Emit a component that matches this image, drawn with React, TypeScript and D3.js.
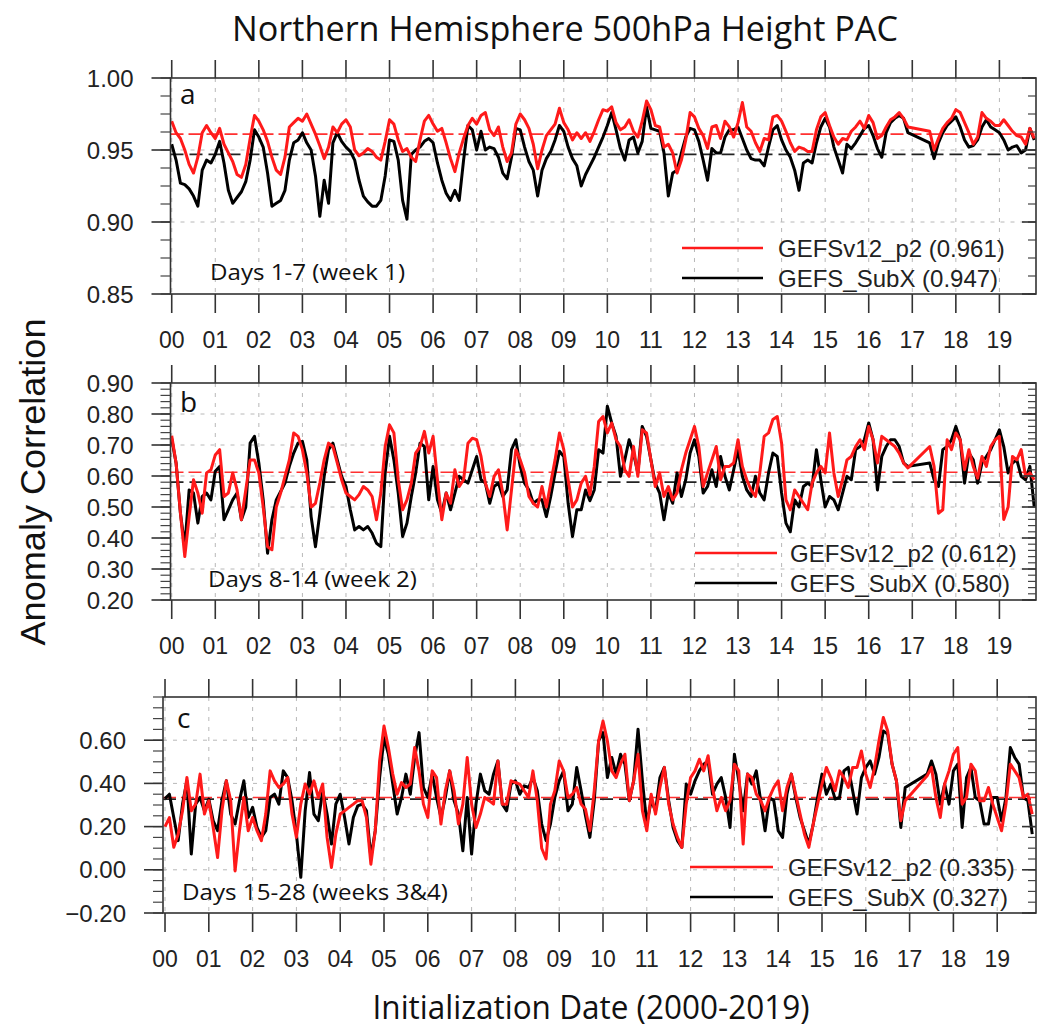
import React from "react";
import * as d3 from "d3";

// ---------------- data ----------------
const YEAR_LABELS = ["00","01","02","03","04","05","06","07","08","09","10","11","12","13","14","15","16","17","18","19"];
const T_STEP = 0.1; // years between samples, first sample at start of 2000

const A_RED = [
  0.970,0.962,0.958,0.950,0.940,0.934,0.945,0.962,0.967,0.962,
  0.958,0.965,0.954,0.948,0.942,0.933,0.931,0.940,0.958,0.974,
  0.970,0.964,0.956,0.945,0.936,0.933,0.945,0.966,0.969,0.972,
  0.970,0.975,0.968,0.961,0.953,0.944,0.952,0.966,0.962,0.968,
  0.971,0.966,0.950,0.946,0.948,0.951,0.949,0.945,0.943,0.956,
  0.971,0.968,0.957,0.949,0.951,0.945,0.942,0.957,0.970,0.974,
  0.968,0.963,0.965,0.955,0.944,0.935,0.948,0.958,0.967,0.972,
  0.968,0.974,0.976,0.964,0.960,0.966,0.952,0.942,0.948,0.968,
  0.975,0.971,0.965,0.954,0.937,0.950,0.960,0.964,0.968,0.979,
  0.969,0.964,0.957,0.962,0.958,0.962,0.956,0.963,0.971,0.978,
  0.977,0.980,0.969,0.964,0.966,0.971,0.963,0.959,0.970,0.984,
  0.978,0.967,0.966,0.952,0.954,0.948,0.934,0.943,0.957,0.976,
  0.973,0.965,0.960,0.951,0.966,0.967,0.958,0.970,0.966,0.959,
  0.969,0.983,0.966,0.963,0.955,0.949,0.958,0.957,0.973,0.974,
  0.970,0.963,0.955,0.949,0.952,0.951,0.949,0.949,0.964,0.973,
  0.976,0.967,0.959,0.954,0.958,0.957,0.963,0.966,0.970,0.965,
  0.974,0.969,0.958,0.960,0.966,0.971,0.973,0.976,0.972,0.966,
  null,null,null,null,0.963,0.950,0.958,0.965,0.969,0.972,
  0.978,0.976,0.969,0.962,0.954,0.959,0.976,0.972,0.970,0.967,
  0.967,0.971,0.967,0.963,0.960,0.959,0.954,0.965,0.958,
];
const A_BLK = [
  0.954,0.943,0.927,0.926,0.923,0.918,0.911,0.936,0.943,0.941,
  0.947,0.956,0.941,0.922,0.913,0.917,0.921,0.928,0.943,0.964,
  0.959,0.952,0.934,0.911,0.913,0.915,0.922,0.943,0.955,0.957,
  0.962,0.955,0.950,0.932,0.904,0.929,0.913,0.955,0.962,0.956,
  0.952,0.949,0.943,0.929,0.918,0.914,0.911,0.911,0.915,0.932,
  0.957,0.956,0.943,0.915,0.902,0.947,0.950,0.952,0.956,0.958,
  0.955,0.941,0.929,0.920,0.915,0.922,0.915,0.943,0.967,0.964,
  0.950,0.963,0.950,0.952,0.951,0.945,0.934,0.930,0.945,0.965,
  0.964,0.952,0.942,0.936,0.918,0.936,0.944,0.949,0.957,0.967,
  0.963,0.952,0.944,0.939,0.925,0.933,0.939,0.945,0.952,0.959,
  0.967,0.976,0.964,0.951,0.943,0.957,0.959,0.948,0.956,0.980,
  0.965,0.964,0.963,0.948,0.918,0.934,0.936,0.948,0.959,0.965,
  0.964,0.956,0.943,0.929,0.951,0.948,0.948,0.959,0.964,0.964,
  0.966,0.958,0.950,0.944,0.943,0.943,0.939,0.952,0.964,0.967,
  0.957,0.950,0.945,0.936,0.922,0.941,0.943,0.941,0.955,0.966,
  0.972,0.966,0.952,0.943,0.934,0.954,0.951,0.955,0.960,0.965,
  0.967,0.960,0.951,0.945,0.962,0.969,0.972,0.974,0.972,0.962,
  null,null,null,null,0.955,0.944,0.955,0.962,0.967,0.970,
  0.973,0.966,0.957,0.952,0.953,0.957,0.966,0.971,0.966,0.964,
  0.962,0.957,0.950,0.952,0.953,0.948,0.950,0.965,0.957,
];
const B_RED = [
  0.730,0.642,0.480,0.340,0.469,0.588,0.545,0.480,0.610,0.620,
  0.668,0.685,0.534,0.545,0.610,0.555,0.459,0.555,0.652,0.652,
  0.610,0.500,0.372,0.362,0.500,0.545,0.599,0.652,0.739,0.728,
  0.685,0.610,0.500,0.512,0.577,0.652,0.706,0.695,0.642,0.588,
  0.545,0.534,0.523,0.540,0.566,0.555,0.534,0.459,0.545,0.695,
  0.765,0.739,0.588,0.491,0.523,0.577,0.674,0.695,0.744,0.674,
  0.728,0.588,0.459,0.545,0.512,0.620,0.566,0.588,0.706,0.722,
  0.717,0.663,0.577,0.534,0.599,0.620,0.545,0.426,0.555,0.685,
  0.652,0.610,0.534,0.512,0.500,0.566,0.500,0.577,0.652,0.739,
  0.685,0.588,0.500,0.523,0.577,0.599,0.540,0.631,0.776,0.792,
  0.739,0.771,0.717,0.695,0.620,0.599,0.695,0.599,0.749,0.739,
  0.652,0.566,0.610,0.534,0.566,0.523,0.545,0.620,0.674,0.717,
  0.760,0.695,0.566,0.610,0.652,0.695,0.588,0.631,0.631,0.642,
  0.717,0.631,0.588,0.555,0.534,0.610,0.728,0.739,0.782,0.792,
  0.706,0.523,0.491,0.555,0.534,0.512,0.491,0.577,0.610,0.631,
  0.610,0.739,0.610,0.534,0.588,0.652,0.663,0.695,0.717,0.685,
  0.760,0.717,0.642,0.728,0.717,0.706,0.695,0.674,0.642,0.626,
  null,null,null,null,0.695,0.631,0.480,0.491,0.717,0.685,
  0.739,0.717,0.620,0.685,0.631,0.593,0.663,0.631,0.695,0.717,
  0.728,0.460,0.500,0.663,0.652,0.685,0.599,0.610,0.588,
];
const B_BLK = [
  0.720,0.642,0.480,0.372,0.555,0.545,0.448,0.534,0.545,0.523,
  0.615,0.631,0.459,0.491,0.523,0.545,0.459,0.500,0.706,0.728,
  0.642,0.523,0.351,0.459,0.523,0.550,0.577,0.631,0.674,0.706,
  0.712,0.652,0.469,0.372,0.480,0.599,0.685,0.706,0.652,0.599,
  0.566,0.491,0.426,0.437,0.426,0.437,0.416,0.383,0.372,0.610,
  0.728,0.652,0.545,0.405,0.448,0.534,0.610,0.706,0.695,0.523,
  0.631,0.523,0.480,0.545,0.491,0.545,0.599,0.588,0.577,0.620,
  0.663,0.588,0.577,0.512,0.566,0.577,0.534,0.555,0.685,0.717,
  0.631,0.577,0.555,0.512,0.523,0.523,0.469,0.534,0.610,0.680,
  0.663,0.512,0.405,0.491,0.491,0.555,0.520,0.555,0.685,0.674,
  0.825,0.771,0.728,0.599,0.652,0.717,0.674,0.610,0.760,0.728,
  0.652,0.577,0.545,0.459,0.545,0.512,0.610,0.534,0.588,0.674,
  0.717,0.663,0.545,0.566,0.620,0.566,0.663,0.599,0.555,0.620,
  0.685,0.599,0.555,0.534,0.599,0.545,0.523,0.610,0.674,0.663,
  0.545,0.448,0.420,0.523,0.500,0.566,0.577,0.566,0.685,0.588,
  0.500,0.534,0.523,0.491,0.545,0.599,0.588,0.685,0.695,0.717,
  0.771,0.717,0.555,0.663,0.695,0.717,0.717,0.695,0.642,0.631,
  null,null,null,null,0.642,0.588,0.566,0.685,0.695,0.717,
  0.760,0.717,0.577,0.674,0.652,0.577,0.642,0.663,0.685,0.717,
  0.749,0.695,0.610,0.642,0.652,0.599,0.588,0.631,0.500,
];
const C_RED = [
  0.200,0.242,0.104,0.165,0.273,0.427,0.273,0.304,0.443,0.258,
  0.320,0.196,0.057,0.273,0.412,0.320,-0.005,0.181,0.335,0.181,
  0.242,0.181,0.135,0.258,0.458,0.412,0.381,0.397,0.427,0.258,
  0.150,0.304,0.397,0.350,0.412,0.335,0.397,0.150,0.011,0.165,
  0.258,0.273,0.289,0.304,0.320,0.320,0.242,0.026,0.181,0.504,
  0.666,0.566,0.443,0.350,0.404,0.381,0.397,0.566,0.458,0.304,
  0.242,0.458,0.427,0.212,0.366,0.458,0.366,0.212,0.304,0.520,
  0.304,0.196,0.258,0.335,0.320,0.304,0.504,0.304,0.304,0.412,
  0.404,0.397,0.366,0.335,0.458,0.320,0.100,0.050,0.304,0.366,
  0.504,0.458,0.335,0.350,0.381,0.304,0.280,0.181,0.366,0.597,
  0.689,0.597,0.458,0.427,0.489,0.535,0.320,0.412,0.535,0.273,
  0.181,0.350,0.258,0.381,0.474,0.304,0.212,0.150,0.104,0.304,
  0.427,0.458,0.512,0.458,0.528,0.381,0.273,0.335,0.273,0.320,
  0.489,0.458,0.119,0.443,0.427,0.350,0.320,0.273,0.335,0.381,
  0.412,0.273,0.381,0.443,0.350,0.258,0.165,0.104,0.212,0.304,
  0.397,0.474,0.427,0.366,0.458,0.427,0.381,0.474,0.474,0.550,
  0.443,0.381,0.474,0.597,0.705,0.643,0.489,0.412,0.227,0.320,
  null,null,null,null,0.435,0.474,0.335,0.242,0.397,0.458,
  0.535,0.566,0.304,0.335,0.489,0.458,0.320,0.320,0.381,0.304,
  0.242,0.181,0.304,0.489,0.458,0.427,0.335,0.350,0.258,
];
const C_BLK = [
  0.330,0.350,0.242,0.135,0.304,0.412,0.073,0.304,0.335,0.273,
  0.327,0.227,0.181,0.320,0.412,0.258,0.212,0.320,0.412,0.242,
  0.289,0.196,0.150,0.181,0.335,0.350,0.304,0.458,0.427,0.320,
  0.165,-0.035,0.273,0.450,0.258,0.227,0.366,0.258,0.119,0.304,
  0.350,0.242,0.119,0.242,0.296,0.304,0.273,0.057,0.181,0.427,
  0.612,0.535,0.397,0.258,0.335,0.443,0.350,0.520,0.635,0.381,
  0.335,0.443,0.335,0.242,0.335,0.458,0.320,0.258,0.088,0.335,
  0.073,0.304,0.443,0.366,0.350,0.443,0.504,0.304,0.273,0.397,
  0.412,0.350,0.389,0.381,0.427,0.366,0.212,0.135,0.212,0.335,
  0.412,0.458,0.273,0.304,0.474,0.366,0.250,0.150,0.320,0.597,
  0.635,0.427,0.520,0.443,0.535,0.489,0.320,0.412,0.651,0.412,
  0.212,0.320,0.273,0.427,0.474,0.320,0.196,0.135,0.104,0.397,
  0.350,0.412,0.458,0.489,0.504,0.350,0.397,0.427,0.335,0.196,
  0.535,0.412,0.273,0.443,0.397,0.458,0.320,0.181,0.335,0.320,
  0.181,0.150,0.350,0.443,0.335,0.242,0.181,0.119,0.212,0.335,
  0.443,0.350,0.397,0.327,0.335,0.458,0.474,0.366,0.258,0.427,
  0.474,0.504,0.443,0.520,0.643,0.628,0.489,0.412,0.196,0.381,
  null,null,null,null,0.443,0.504,0.443,0.304,0.397,0.304,
  0.458,0.489,0.196,0.427,0.474,0.335,0.320,0.212,0.212,0.335,
  0.335,0.227,0.335,0.566,0.520,0.489,0.335,0.320,0.165,
];

const SERIES_NAMES = ["GEFSv12_p2", "GEFS_SubX"];
const MEANS_A = [0.961, 0.947];
const MEANS_B = [0.612, 0.580];
const MEANS_C = [0.335, 0.327];
const Y_TICKS_A = [0.85, 0.90, 0.95, 1.00];
const Y_TICKS_B = [0.20, 0.30, 0.40, 0.50, 0.60, 0.70, 0.80, 0.90];
const Y_TICKS_C = [-0.20, 0.00, 0.20, 0.40, 0.60];

// ---------------- layout ----------------
const HELV = "'Liberation Sans', Arial, Helvetica, sans-serif";
const HUM = "'Open Sans', 'Noto Sans', sans-serif";
const RED = "#ff1a1a";

const panels = [
  {
    key: "a", letter: "a", caption: "Days 1-7 (week 1)", red: A_RED, blk: A_BLK, means: MEANS_A,
    yTicks: Y_TICKS_A, yDomain: [0.85, 1.0], minorStep: 0.0125,
    xDomain: [-0.028, 19.84], xRange: [170.5, 1036], yRange: [294, 78],
    letterPos: [180, 104], capPos: [210, 280], capW: 195,
    legX: [682, 763], legY: [248, 278], legTx: 778,
  },
  {
    key: "b", letter: "b", caption: "Days 8-14 (week 2)", red: B_RED, blk: B_BLK, means: MEANS_B,
    yTicks: Y_TICKS_B, yDomain: [0.2, 0.9], minorStep: 0.02,
    xDomain: [-0.028, 19.84], xRange: [170.5, 1036], yRange: [600, 383],
    letterPos: [180, 412], capPos: [208, 587], capW: 209,
    legX: [695, 777], legY: [553, 583], legTx: 790,
  },
  {
    key: "c", letter: "c", caption: "Days 15-28 (weeks 3&4)", red: C_RED, blk: C_BLK, means: MEANS_C,
    yTicks: Y_TICKS_C, yDomain: [-0.2, 0.8], minorStep: 0.05,
    xDomain: [-0.046, 19.886], xRange: [163, 1036], yRange: [913, 697],
    letterPos: [177, 728], capPos: [182, 900], capW: 266,
    legX: [690, 773], legY: [867, 897], legTx: 788,
  },
];

function Panel({ p }: { p: any }) {
  const x = d3.scaleLinear().domain(p.xDomain).range(p.xRange);
  const y = d3.scaleLinear().domain(p.yDomain).range(p.yRange);
  const [x0, x1] = p.xRange;
  const [yb, yt] = p.yRange;
  const line = d3.line<[number, number]>().x((d) => x(d[0])).y((d) => y(d[1]));
  const pts = (arr: (number | null)[]) =>
    arr.map((v, i) => [i * T_STEP, v] as [number, number | null]).filter((d) => d[1] != null) as [number, number][];
  const minors = d3.range(p.yDomain[0], p.yDomain[1] + 1e-9, p.minorStep);
  const fmt = d3.format(".2f");
  const yearTicks = YEAR_LABELS.map((_, i) => i);
  const names = SERIES_NAMES;
  return (
    <g>
      {/* grid */}
      {yearTicks.map((t) => (
        <line key={"gx" + t} x1={x(t)} x2={x(t)} y1={yt} y2={yb} stroke="#b8b8b8" strokeWidth={1} strokeDasharray="4 6" />
      ))}
      {p.yTicks.filter((v: number) => y(v) > yt + 1 && y(v) < yb - 1).map((v: number) => (
        <line key={"gy" + v} x1={x0} x2={x1} y1={y(v)} y2={y(v)} stroke="#b8b8b8" strokeWidth={1} strokeDasharray="4 6" />
      ))}
      {/* means */}
      <line x1={x0} x2={x1} y1={y(p.means[1])} y2={y(p.means[1])} stroke="#222" strokeWidth={1.8} strokeDasharray="13 6" />
      <line x1={x0} x2={x1} y1={y(p.means[0])} y2={y(p.means[0])} stroke={RED} strokeWidth={1.6} strokeDasharray="13 5" opacity={0.9} />
      {/* series */}
      <clipPath id={"clip" + p.key}>
        <rect x={x0} y={yt} width={x1 - x0} height={yb - yt} />
      </clipPath>
      <g clipPath={`url(#clip${p.key})`}>
        <path d={line(pts(p.blk)) || ""} fill="none" stroke="#000" strokeWidth={3} strokeLinejoin="round" />
        <path d={line(pts(p.red)) || ""} fill="none" stroke={RED} strokeWidth={3} strokeLinejoin="round" />
      </g>
      {/* frame */}
      <rect x={x0} y={yt} width={x1 - x0} height={yb - yt} fill="none" stroke="#333" strokeWidth={1.6} />
      {/* left ticks */}
      {minors.map((v, i) => (
        <line key={"lm" + i} x1={x0 - 10} x2={x0} y1={y(v)} y2={y(v)} stroke="#444" strokeWidth={1.2} />
      ))}
      {p.yTicks.map((v: number) => (
        <line key={"lM" + v} x1={x0 - 19} x2={x0} y1={y(v)} y2={y(v)} stroke="#333" strokeWidth={1.6} />
      ))}
      {/* right ticks (inward) */}
      {minors.map((v, i) => (
        <line key={"rm" + i} x1={x1 - 8} x2={x1} y1={y(v)} y2={y(v)} stroke="#444" strokeWidth={1.2} />
      ))}
      {p.yTicks.map((v: number) => (
        <line key={"rM" + v} x1={x1 - 14} x2={x1} y1={y(v)} y2={y(v)} stroke="#333" strokeWidth={1.6} />
      ))}
      {/* top & bottom ticks */}
      {yearTicks.map((t) => (
        <g key={"xt" + t}>
          <line x1={x(t)} x2={x(t)} y1={yt - 18} y2={yt} stroke="#333" strokeWidth={1.6} />
          <line x1={x(t)} x2={x(t)} y1={yb} y2={yb + 19} stroke="#333" strokeWidth={1.6} />
          <text x={x(t)} y={yb + 46} textAnchor="middle" dominantBaseline="central" fontFamily={HELV} fontSize={23} fill="#222">
            {YEAR_LABELS[t]}
          </text>
        </g>
      ))}
      {/* y labels */}
      {p.yTicks.map((v: number) => (
        <text key={"yl" + v} x={x0 - 37} y={y(v)} textAnchor="end" dominantBaseline="central" fontFamily={HELV} fontSize={24} fill="#222">
          {fmt(v)}
        </text>
      ))}
      {/* letter & caption */}
      <text x={p.letterPos[0]} y={p.letterPos[1]} fontFamily={HUM} fontSize={28} fill="#111">{p.letter}</text>
      <text x={p.capPos[0]} y={p.capPos[1]} fontFamily={HUM} fontSize={22} fill="#111" textLength={p.capW} lengthAdjust="spacingAndGlyphs">
        {p.caption}
      </text>
      {/* legend */}
      <line x1={p.legX[0]} x2={p.legX[1]} y1={p.legY[0]} y2={p.legY[0]} stroke={RED} strokeWidth={2.6} />
      <line x1={p.legX[0]} x2={p.legX[1]} y1={p.legY[1]} y2={p.legY[1]} stroke="#000" strokeWidth={2.6} />
      <text x={p.legTx} y={p.legY[0]} dominantBaseline="central" fontFamily={HELV} fontSize={24} fill="#222">
        {`${names[0]} (${d3.format(".3f")(p.means[0])})`}
      </text>
      <text x={p.legTx} y={p.legY[1]} dominantBaseline="central" fontFamily={HELV} fontSize={24} fill="#222">
        {`${names[1]} (${d3.format(".3f")(p.means[1])})`}
      </text>
    </g>
  );
}

export default function App() {
  return (
    <svg width={1045} height={1032} viewBox="0 0 1045 1032" style={{ position: "absolute", left: 0, top: 0, background: "#fff" }}>
      <rect x={0} y={0} width={1045} height={1032} fill="#fff" />
      <text x={565} y={41} textAnchor="middle" fontFamily={HUM} fontSize={35} fill="#111" textLength={666} lengthAdjust="spacingAndGlyphs">
        Northern Hemisphere 500hPa Height PAC
      </text>
      {panels.map((p) => (
        <Panel key={p.key} p={p} />
      ))}
      <text transform="translate(45,482) rotate(-90)" textAnchor="middle" fontFamily={HELV} fontSize={35} fill="#111" textLength={327} lengthAdjust="spacingAndGlyphs">
        Anomaly Correlation
      </text>
      <text x={591} y={1019} textAnchor="middle" fontFamily={HUM} fontSize={32} fill="#111" textLength={437} lengthAdjust="spacingAndGlyphs">
        Initialization Date (2000-2019)
      </text>
    </svg>
  );
}
